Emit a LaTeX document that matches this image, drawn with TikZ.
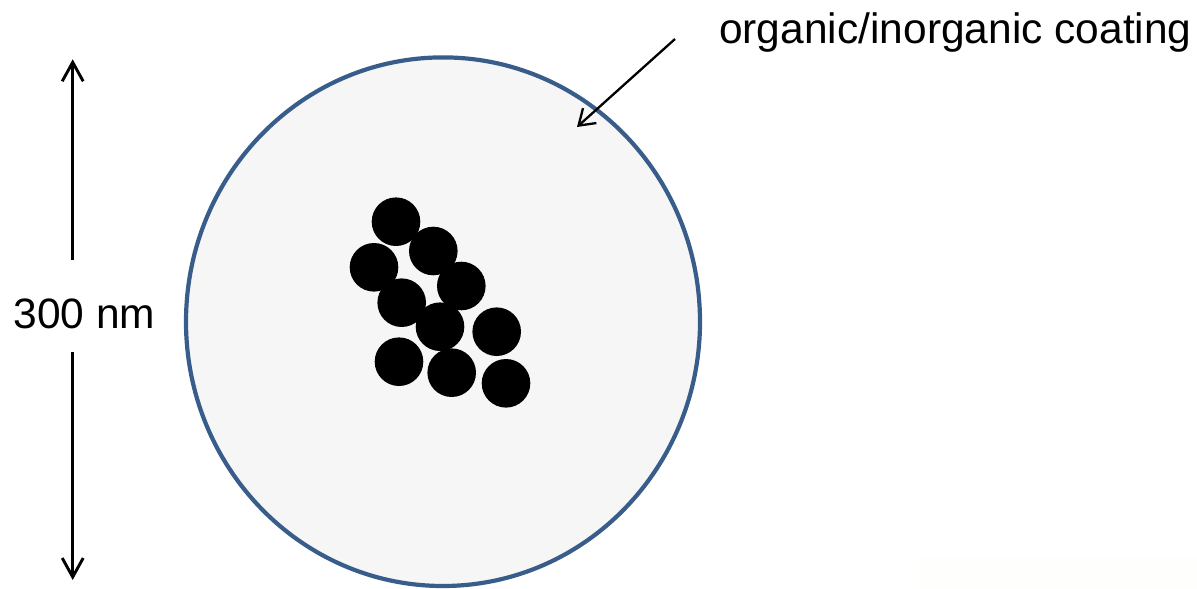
\documentclass[tikz,border=0pt]{standalone}
\usepackage{fontspec}
\setmainfont{Liberation Sans}
\usetikzlibrary{arrows.meta}
\definecolor{ring}{RGB}{56,93,138}
\definecolor{shell}{RGB}{246,246,246}
\definecolor{faint}{RGB}{254,254,252}
\begin{document}
\begin{tikzpicture}[x=1pt,y=-1pt,
  lbl/.style={font=\fontsize{42.5}{50}\selectfont, inner sep=0pt},
  particle/.style={circle, fill=black, minimum size=48.6pt, inner sep=0pt},
  dimarrow/.style={line width=2.9pt, -{Straight Barb[length=19pt,width=21pt]}},
  callout/.style={line width=2.3pt, -{Straight Barb[length=15pt,width=20pt]}}]
\useasboundingbox (0,0) rectangle (1197,589);
\fill[faint] (920,557) rectangle (1197,589);
% coating shell
\draw[line width=4.2pt, draw=ring, fill=shell] (443,321.7) ellipse [x radius=257, y radius=264.3];
% particles
\node[particle] (p1) at (396,221.7) {};
\node[particle] (p2) at (433.3,251) {};
\node[particle] (p3) at (374,267.3) {};
\node[particle] (p4) at (461.3,286) {};
\node[particle] (p5) at (401.7,302.7) {};
\node[particle] (p6) at (440,326.7) {};
\node[particle] (p7) at (496.7,331.7) {};
\node[particle] (p8) at (399,361.7) {};
\node[particle] (p9) at (451.7,372.7) {};
\node[particle] (p10) at (506,383.3) {};
% labels
\node[lbl, anchor=base west] (coat) at (719,43.3) {organic/inorganic coating};
\node[lbl, anchor=base west] (size) at (13.5,328.3) {300 nm};
% callout arrow
\coordinate (cstart) at (675,39);
\coordinate (ctip) at (577,127);
\draw[callout] (cstart) -- (ctip);
% dimension arrows
\coordinate (dtop) at (72.7,59.3);
\coordinate (dbot) at (72.7,580);
\coordinate (dupper) at (72.7,260);
\coordinate (dlower) at (72.7,352);
\draw[dimarrow] (dupper) -- (dtop);
\draw[dimarrow] (dlower) -- (dbot);
\end{tikzpicture}
\end{document}
